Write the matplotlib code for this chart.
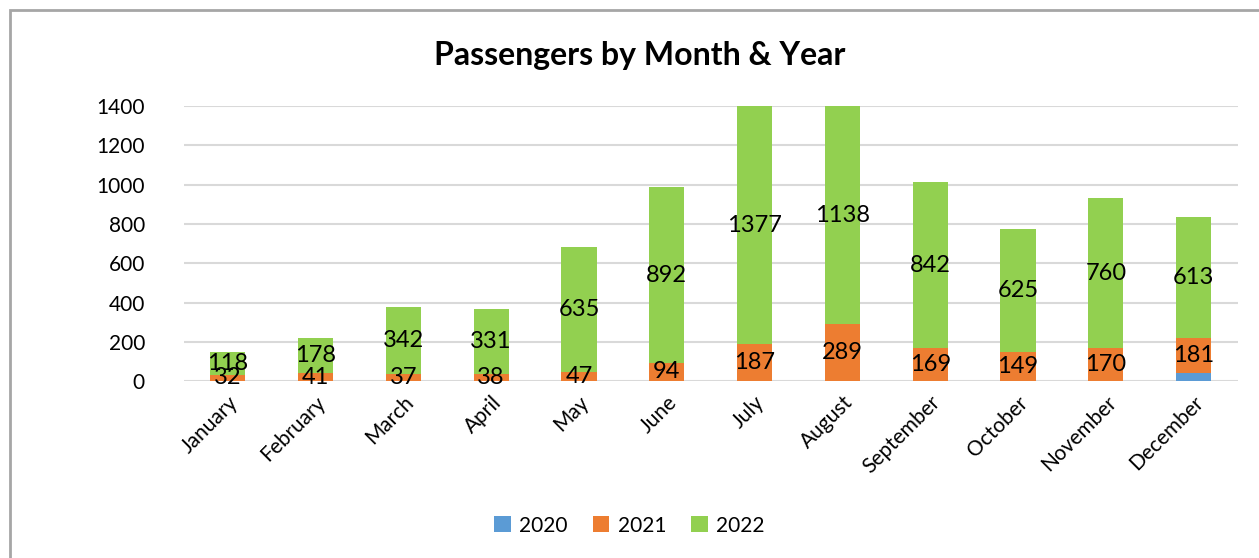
import numpy as np
import matplotlib.pyplot as plt
from matplotlib.patches import Rectangle

months = ["January", "February", "March", "April", "May", "June", "July",
          "August", "September", "October", "November", "December"]
y2020 = [0, 0, 0, 0, 0, 0, 0, 0, 0, 0, 0, 40]
y2021 = [32, 41, 37, 38, 47, 94, 187, 289, 169, 149, 170, 181]
y2022 = [118, 178, 342, 331, 635, 892, 1377, 1138, 842, 625, 760, 613]

plt.rcParams['font.family'] = ['Lato', 'DejaVu Sans']

fig = plt.figure(figsize=(12.59, 5.58), dpi=100)
ax = fig.add_axes([0.146, 0.317, 0.837, 0.493])

x = np.arange(len(months))
w = 0.4
b1 = ax.bar(x, y2020, w, color='#5B9BD5', label='2020')
b2 = ax.bar(x, y2021, w, bottom=y2020, color='#ED7D31', label='2021')
bot = np.array(y2020) + np.array(y2021)
b3 = ax.bar(x, y2022, w, bottom=bot, color='#92D050', label='2022')

ax.bar_label(b2, labels=[str(v) for v in y2021], label_type='center', fontsize=17)
ax.bar_label(b3, labels=[str(v) for v in y2022], label_type='center', fontsize=17)

ax.set_xlim(-0.5, len(months) - 0.5)
ax.set_ylim(0, 1400)
ax.set_yticks(range(0, 1401, 200))
ax.yaxis.grid(True, color='#D9D9D9', linewidth=1.5)
ax.set_axisbelow(True)
for s in ax.spines.values():
    s.set_visible(False)
ax.tick_params(axis='both', length=0, labelsize=15, pad=8)
ax.tick_params(axis='y', pad=28)
ax.set_xticks(x)
ax.set_xticklabels(months, rotation=45, ha='right', rotation_mode='anchor')

fig.text(0.508, 0.9, "Passengers by Month & Year", ha='center', va='center',
         fontsize=23, fontweight='bold')

fig.legend(handles=[b1, b2, b3], loc='center', bbox_to_anchor=(0.5, 0.058),
           ncol=3, frameon=False, fontsize=15, handlelength=0.8,
           handleheight=0.8, columnspacing=1.2, handletextpad=0.4)

fig.patches.append(Rectangle((10 / 1259, -0.1), 1.2, 1 - 10 / 558 + 0.1,
                             transform=fig.transFigure, fill=False,
                             edgecolor='#A6A6A6', linewidth=2))

plt.savefig("out.png", dpi=100)
